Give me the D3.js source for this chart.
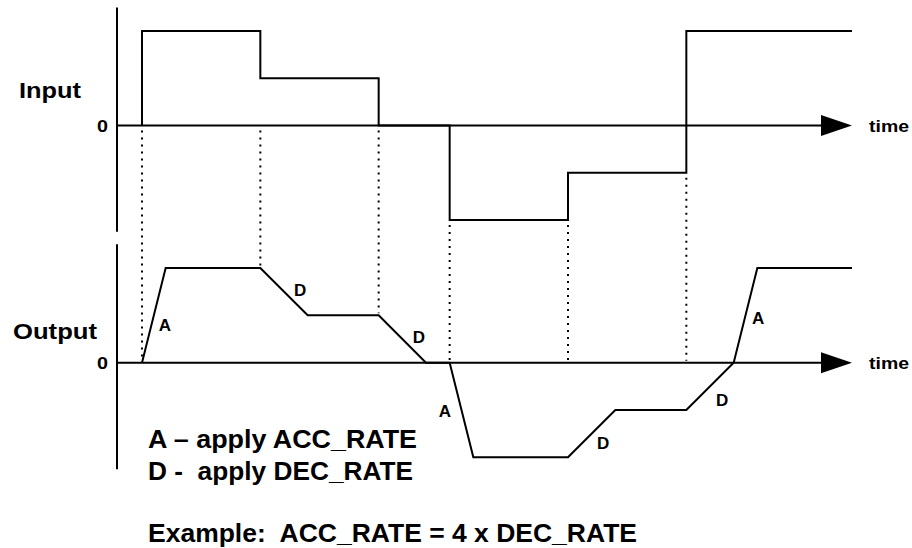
<!DOCTYPE html>
<html>
<head>
<meta charset="utf-8">
<script src="https://cdn.jsdelivr.net/npm/d3@7"></script>
<style>
    body { margin: 0; background: #fff; }
    text { font-family: "Liberation Sans", Arial, sans-serif; font-weight: bold; fill: #000; }
</style>
</head>
<body>
<svg id="chart"></svg>
<script>
// Input step signal (time, level)
const inputTimes  = [0, 0, 5, 5, 10, 10, 13, 13, 18, 18, 23, 23, 30];
const inputLevels = [0, 2, 2, 1, 1, 0, 0, -2, -2, -1, -1, 2, 2];

// Output ramped signal (time, level)
const outputTimes  = [0, 1, 5, 7, 10, 12, 13, 14, 18, 20, 23, 25, 26, 30];
const outputLevels = [0, 2, 2, 1, 1, 0, 0, -2, -2, -1, -1, 0, 2, 2];

// times where the input changes -> dotted guide lines
const transitionTimes = [0, 5, 10, 13, 18, 23];

// rate labels on the output slopes
const rateLabels = ["A", "D", "D", "A", "D", "D", "A"];
const labelTimes = [0.97, 6.68, 11.7, 12.8, 19.48, 24.51, 26.03];
const labelLevels = [0.8, 1.53, 0.54, -1.02, -1.7, -0.79, 0.94];

const legendLines = ["A \u2013 apply ACC_RATE", "D -  apply DEC_RATE"];
const exampleText = "Example:  ACC_RATE = 4 x DEC_RATE";

// Declare the chart dimensions
const width = 912;
const height = 548;
const axisX = 117;
const axisTop = 2.5;
const axisBottom = -2.25;

const x = d3.scaleLinear().domain([0, 30]).range([142, 852]);
const yIn = d3.scaleLinear().domain([-2, 2]).range([220, 31]);
const yOut = d3.scaleLinear().domain([-2, 2]).range([457.3, 268]);

const svg = d3.select("#chart")
    .attr("width", width)
    .attr("height", height);

const line = (yScale) => d3.line()
    .x(d => x(d[0]))
    .y(d => yScale(d[1]));

const drawPanel = (yScale, times, levels, title, titleY, titleX, titleLen) => {
    // vertical axis
    svg.append("line")
        .attr("x1", axisX).attr("x2", axisX)
        .attr("y1", yScale(axisTop)).attr("y2", yScale(axisBottom))
        .attr("stroke", "#000")
        .attr("stroke-width", 2);

    // time axis with arrow
    const tipX = x(30);
    const y0 = yScale(0);
    svg.append("line")
        .attr("x1", axisX).attr("x2", tipX - 20)
        .attr("y1", y0).attr("y2", y0)
        .attr("stroke", "#000")
        .attr("stroke-width", 2);
    svg.append("path")
        .attr("d", `M${tipX},${y0} L${tipX - 31},${y0 - 10.5} L${tipX - 31},${y0 + 10.5} Z`)
        .attr("fill", "#000");

    svg.append("text")
        .text("time")
        .attr("x", tipX + 17)
        .attr("y", y0 + 6)
        .attr("font-size", 17)
        .attr("textLength", 40)
        .attr("lengthAdjust", "spacingAndGlyphs");

    svg.append("text")
        .text("0")
        .attr("x", 108)
        .attr("y", y0 + 6)
        .attr("text-anchor", "end")
        .attr("font-size", 17)
        .attr("textLength", 11)
        .attr("lengthAdjust", "spacingAndGlyphs");

    svg.append("text")
        .text(title)
        .attr("x", titleX)
        .attr("y", titleY)
        .attr("font-size", 22)
        .attr("textLength", titleLen)
        .attr("lengthAdjust", "spacingAndGlyphs");

    // signal
    svg.append("path")
        .datum(times.map((t, i) => [t, levels[i]]))
        .attr("d", line(yScale))
        .attr("fill", "none")
        .attr("stroke", "#000")
        .attr("stroke-width", 2)
        .attr("stroke-linejoin", "miter");
};

drawPanel(yIn, inputTimes, inputLevels, "Input", 98, 19, 62);
drawPanel(yOut, outputTimes, outputLevels, "Output", 339, 13, 84);

// dotted guide lines
svg.selectAll(".guide")
    .data(transitionTimes)
    .enter()
    .append("line")
    .attr("class", "guide")
    .attr("x1", t => x(t))
    .attr("x2", t => x(t))
    .attr("y1", t => {
        const lv = inputTimes
            .map((tt, i) => tt === t ? inputLevels[i] : 0)
            .concat([0]);
        return yIn(d3.min(lv)) + 5;
    })
    .attr("y2", t => {
        let out = 0;
        outputTimes.forEach((tt, i) => { if (tt === t) out = Math.max(out, outputLevels[i]); });
        return yOut(out) - 2;
    })
    .attr("stroke", "#000")
    .attr("stroke-width", 2)
    .attr("stroke-dasharray", "2,5");

// A / D labels
svg.selectAll(".rate")
    .data(rateLabels)
    .enter()
    .append("text")
    .attr("class", "rate")
    .text(d => d)
    .attr("x", (d, i) => x(labelTimes[i]))
    .attr("y", (d, i) => yOut(labelLevels[i]))
    .attr("dy", "0.36em")
    .attr("text-anchor", "middle")
    .attr("font-size", 17);

// legend
svg.selectAll(".legend")
    .data(legendLines)
    .enter()
    .append("text")
    .attr("class", "legend")
    .text(d => d)
    .attr("x", 148)
    .attr("y", (d, i) => 448 + i * 32)
    .attr("font-size", 25)
    .attr("textLength", (d, i) => i === 0 ? 269 : 265)
    .attr("lengthAdjust", "spacingAndGlyphs")
    .style("white-space", "pre");

svg.append("text")
    .text(exampleText)
    .attr("x", 148)
    .attr("y", 542)
    .attr("font-size", 25)
    .attr("textLength", 489)
    .attr("lengthAdjust", "spacingAndGlyphs")
    .style("white-space", "pre");
</script>
</body>
</html>
